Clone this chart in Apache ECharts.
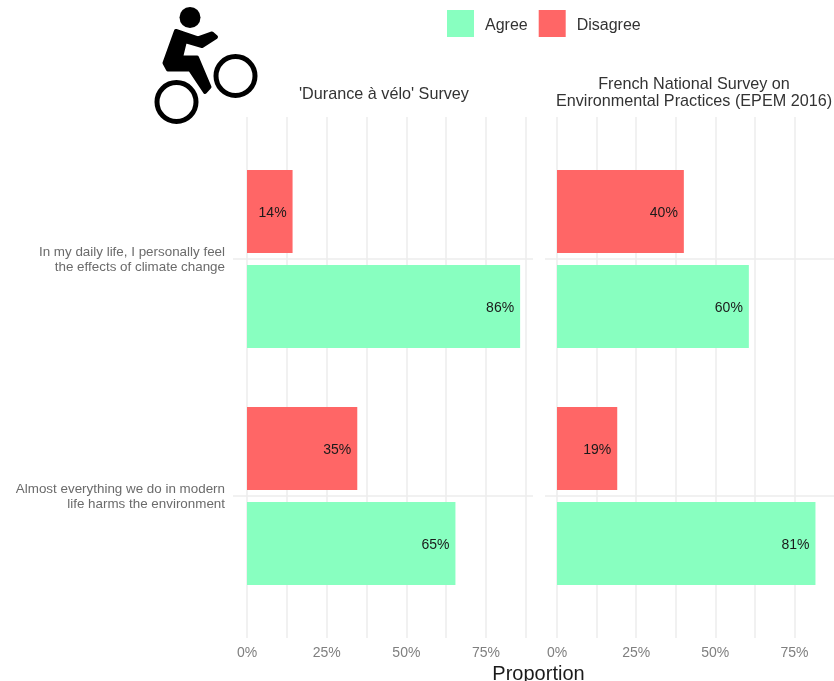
<!DOCTYPE html>
<html><head><meta charset="utf-8">
<style>html,body{margin:0;padding:0;background:#fff}#c{width:834px;height:681px}</style>
<script src="https://cdn.jsdelivr.net/npm/echarts@6/dist/echarts.min.js"></script>
</head><body><div id="c"></div>
<script>
const categories = ["In my daily life, I personally feel\nthe effects of climate change", "Almost everything we do in modern\nlife harms the environment"];
const panels = ["'Durance à vélo' Survey", "French National Survey on\nEnvironmental Practices (EPEM 2016)"];
const agreeDurance = [85.7, 65.4];
const disagreeDurance = [14.3, 34.6];
const agreeEpem = [60.2, 81.1];
const disagreeEpem = [39.8, 18.9];
const tickValues = [0, 25, 50, 75];

const AGREE = '#88FFC0', DISAGREE = '#FF6666', GRID = '#EDEDED';
const FONT = '"Liberation Sans", Arial, sans-serif';
const W = 834, H = 681;
const pxPerPct = 3.187;
const geo = [{x0: 247, l: 233, r: 533}, {x0: 557, l: 545, r: 834}];
const bandTop = 140.5, bandBottom = 614.5, bgTop = 117, bgBottom = 638;

const grids = [], xAxes = [], yAxes = [], series = [];
const valuesByPanel = [[disagreeDurance, agreeDurance], [disagreeEpem, agreeEpem]];

geo.forEach((g, p) => {
  const bgMax = 12.5 * Math.ceil((g.r - g.x0) / pxPerPct / 12.5);
  grids.push({left: g.x0, width: bgMax * pxPerPct, top: bgTop, height: bgBottom - bgTop});
  xAxes.push({type: 'value', gridIndex: 2 * p, min: 0, max: bgMax, interval: 12.5,
    axisLine: {show: false}, axisTick: {show: false},
    splitLine: {show: true, showMinLine: true, showMaxLine: false, lineStyle: {color: GRID, width: 1.5}},
    axisLabel: {color: '#7F7F7F', fontFamily: FONT, fontSize: 14, margin: 8,
      showMinLabel: true, showMaxLabel: false,
      formatter: v => tickValues.includes(v) ? v + '%' : ''}});
  yAxes.push({type: 'value', gridIndex: 2 * p, min: 0, max: 1, show: false});

  const xmin = (g.l - g.x0) / pxPerPct, xmax = (g.r - g.x0) / pxPerPct;
  grids.push({left: g.l, width: g.r - g.l, top: bandTop, height: bandBottom - bandTop});
  xAxes.push({type: 'value', gridIndex: 2 * p + 1, min: xmin, max: xmax, show: false, splitLine: {show: false}});
  yAxes.push({type: 'category', gridIndex: 2 * p + 1, inverse: true, data: categories,
    axisLine: {show: false}, axisTick: {show: false}, splitLine: {show: false},
    axisLabel: {show: false}});

  const lab = {show: true, position: 'insideRight', distance: 6, offset: [0, 2],
    formatter: d => Math.round(d.value) + '%', color: '#1a1a1a', fontFamily: FONT, fontSize: 14};
  series.push({type: 'line', xAxisIndex: 2 * p + 1, yAxisIndex: 2 * p + 1, data: [], silent: true, z: 1,
    markLine: {silent: true, symbol: 'none', label: {show: false}, z: 1,
      lineStyle: {color: GRID, width: 1.5, type: 'solid'},
      data: categories.map((c, i) => ({yAxis: i}))}});
  series.push({name: 'Disagree', type: 'bar', xAxisIndex: 2 * p + 1, yAxisIndex: 2 * p + 1,
    data: valuesByPanel[p][0], barWidth: 83, barGap: '14.5%', itemStyle: {color: DISAGREE}, label: lab, z: 3});
  series.push({name: 'Agree', type: 'bar', xAxisIndex: 2 * p + 1, yAxisIndex: 2 * p + 1,
    data: valuesByPanel[p][1], barWidth: 83, barGap: '14.5%', itemStyle: {color: AGREE}, label: lab, z: 3});
});

const catLabels = categories.map((c, i) => ({
  type: 'text', right: W - 225, top: [245, 482][i],
  style: {text: c, fill: '#6b6b6b', font: '13.4px ' + FONT, textAlign: 'right', lineHeight: 15}
}));

const cyclist = {type: 'group', silent: true, children: [
  {type: 'circle', shape: {cx: 190, cy: 17.5, r: 10.5}, style: {fill: '#000'}},
  {type: 'circle', shape: {cx: 235.5, cy: 76, r: 19.5}, style: {fill: 'none', stroke: '#000', lineWidth: 5}},
  {type: 'circle', shape: {cx: 176.5, cy: 102, r: 19.5}, style: {fill: 'none', stroke: '#000', lineWidth: 5}},
  {type: 'polygon', shape: {points: [[176, 31], [198, 38.5], [212, 33.5], [216, 37], [202, 46], [185, 41], [181, 57.5], [197, 57.5], [209.5, 87], [205, 92], [190, 69.5], [168, 69.5], [164.5, 63]]},
    style: {fill: '#000', stroke: '#000', lineWidth: 4, lineJoin: 'round'}}
]};

const chart = echarts.init(document.getElementById('c'), null, {renderer: 'canvas', width: W, height: H});
chart.setOption({
  backgroundColor: '#fff',
  animation: false,
  title: [
    {text: panels[0], left: 384, top: 87, padding: 0, textAlign: 'center', textStyle: {fontFamily: FONT, fontSize: 16.2, fontWeight: 'normal', color: '#333'}},
    {text: panels[1], left: 694, top: 76, padding: 0, textAlign: 'center', textStyle: {fontFamily: FONT, fontSize: 16.2, fontWeight: 'normal', color: '#333', lineHeight: 17}},
    {text: 'Proportion', left: 538.5, top: 664, padding: 0, textAlign: 'center', textStyle: {fontFamily: FONT, fontSize: 20, fontWeight: 'normal', color: '#1a1a1a'}}
  ],
  legend: {data: ['Agree', 'Disagree'], left: 447, top: 10, itemWidth: 27, itemHeight: 27, itemGap: 11,
    icon: 'rect', formatter: '{t|{name}}',
    textStyle: {fontFamily: FONT, fontSize: 16, color: '#333',
      rich: {t: {fontFamily: FONT, fontSize: 16, color: '#333', padding: [4, 0, 0, 6]}}},
    padding: 0, selectedMode: false},
  grid: grids, xAxis: xAxes, yAxis: yAxes, series,
  graphic: [...catLabels, cyclist]
});
</script></body></html>
